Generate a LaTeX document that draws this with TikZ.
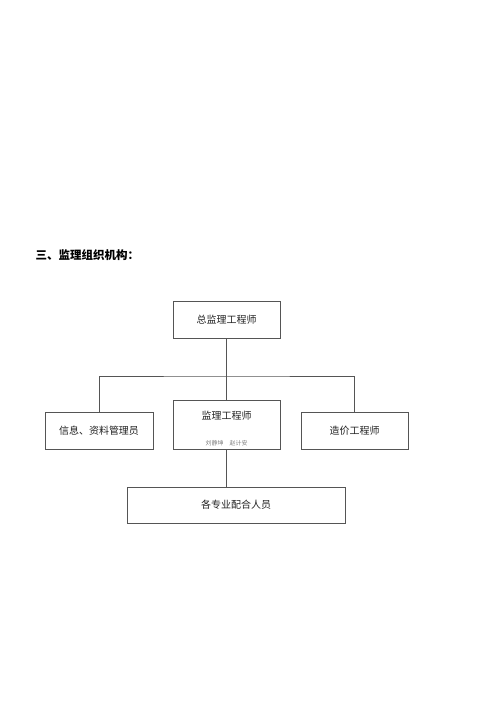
\documentclass[tikz,border=0pt]{standalone}
\usepackage{fontspec}
\setmainfont{Noto Sans CJK SC}
\usepackage{tikz}
\usetikzlibrary{positioning,calc}
\definecolor{LineGray}{HTML}{555555}
\definecolor{TextGray}{HTML}{222222}

\begin{document}
\begin{tikzpicture}[x=1pt, y=-1pt, every node/.style={align=center, font=\fontsize{10}{12}\selectfont, text=TextGray},
  orgbox/.style={draw=LineGray, line width=0.8pt, inner sep=0pt}]
  \useasboundingbox[fill=white] (0,0) rectangle (500,707);
  \node[anchor=west, font=\fontsize{11.5}{13}\selectfont\bfseries, text=black] (title) at (32,255) {三、监理组织机构：};
  \node[orgbox, minimum width=107pt, minimum height=37pt] (chief) at (226.5,319.5) {总监理工程师};
  \node[orgbox, minimum width=108pt, minimum height=37pt] (info) at (99,430.5) {信息、资料管理员};
  \node[orgbox, minimum width=107pt, minimum height=49pt, text depth=19pt] (super) at (226.5,424.5) {监理工程师};
  \node[font=\fontsize{6}{7}\selectfont, text=gray] (names) at (226.5,443) {刘静坤\quad 赵计安};
  \node[orgbox, minimum width=107pt, minimum height=37pt] (cost) at (354.5,430.5) {造价工程师};
  \node[orgbox, minimum width=218pt, minimum height=36pt] (staff) at (236,505) {各专业配合人员};
  \coordinate (bus) at (226.5,376);
  \draw[LineGray, line width=0.8pt] (chief.south) -- (super.north);
  \draw[LineGray, line width=0.8pt] (info.north) |- (bus) -| (cost.north);
  \draw[LineGray, line width=0.8pt] (super.south) -- (super.south |- staff.north);
\end{tikzpicture}
\end{document}
